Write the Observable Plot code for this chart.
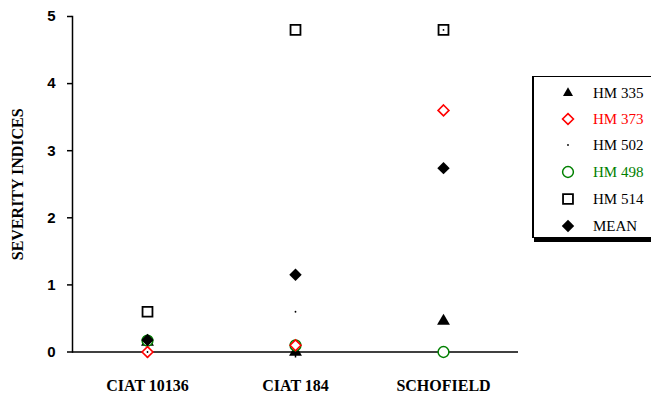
<!DOCTYPE html>
<html>
<head>
<meta charset="utf-8">
<script src="https://cdn.jsdelivr.net/npm/d3@7"></script>
<script src="https://cdn.jsdelivr.net/npm/@observablehq/plot@0.6"></script>
<style>
  html, body { margin: 0; padding: 0; background: #fff; }
  #wrap { position: relative; width: 651px; height: 399px; overflow: hidden; }
  #legend { position: absolute; left: 532px; top: 76px; width: 130px; height: 160px;
    border: 1px solid #000; border-left-width: 2px; background: #fff; box-shadow: 2px 4px 0 #000; }
  .row { position: absolute; left: 0; height: 20px; display: flex; align-items: center; }
  .row span { position: absolute; left: 59px; font-family: "Liberation Serif", "Times New Roman", serif; font-size: 15px; white-space: nowrap; }
</style>
</head>
<body>
<div id="wrap"></div>
<script>
const categories = ["CIAT 10136", "CIAT 184", "SCHOFIELD"];
const seriesNames = ["HM 335", "HM 373", "HM 502", "HM 498", "HM 514", "MEAN"];
const hm335 = [0.15, 0.0, 0.46];
const hm373 = [0.0, 0.1, 3.6];
const hm502 = [0.0, 0.6, 4.8];
const hm498 = [0.17, 0.1, 0.0];
const hm514 = [0.6, 4.8, 4.8];
const mean = [0.18, 1.15, 2.74];
const yTicks = [0, 1, 2, 3, 4, 5];
const yTitle = "SEVERITY INDICES";

const seriesValues = [hm335, hm373, hm502, hm498, hm514, mean];
const styles = [
  {symbol: "triangle", r: 4.8, fill: "#000", stroke: "none", strokeWidth: 0, text: "#000"},
  {symbol: "diamond2", r: 4.9, fill: "#fff", stroke: "#ff0000", strokeWidth: 1.6, text: "#ff0000"},
  {symbol: "circle", r: 0.9, fill: "#000", stroke: "none", strokeWidth: 0, text: "#000"},
  {symbol: "circle", r: 5.4, fill: "#fff", stroke: "#008000", strokeWidth: 1.5, text: "#008000"},
  {symbol: "square", r: 5.6, fill: "none", stroke: "#000", strokeWidth: 1.8, text: "#000"},
  {symbol: "diamond2", r: 5.6, fill: "#000", stroke: "none", strokeWidth: 0, text: "#000"}
];
// drawing order (hollow circle beneath the red diamond, dot above it)
const drawOrder = [0, 3, 1, 2, 4, 5];

const dotMarks = drawOrder.map((i) => {
  const s = styles[i];
  const vals = seriesValues[i];
  const data = categories.map((c, j) => ({cat: c, v: vals[j]}));
  return Plot.dot(data, {x: "cat", y: "v", symbol: () => s.symbol, r: s.r,
    fill: s.fill, stroke: s.stroke, strokeWidth: s.strokeWidth});
});

const chart = Plot.plot({
  width: 651,
  height: 399,
  marginLeft: 72,
  marginRight: 133,
  marginTop: 16,
  marginBottom: 47.5,
  style: {background: "transparent", color: "#000"},
  x: {type: "band", domain: categories, padding: 0},
  y: {domain: [0, 5]},
  symbol: {type: "identity"},
  marks: [
    Plot.frame({anchor: "left", stroke: "#000", strokeWidth: 1.5}),
    Plot.axisY(yTicks, {tickSize: 5, tickPadding: 12, fontSize: 15, fontWeight: "bold",
      tickFormat: d3.format("d"),
      fontFamily: "Liberation Sans, Arial, sans-serif", label: null, strokeWidth: 1.5}),
    Plot.axisX({tickSize: 6, tickPadding: 22, fontSize: 16, fontWeight: "bold",
      fontFamily: "Liberation Serif, Times New Roman, serif", label: null, strokeWidth: 1.5}),
    Plot.ruleY([0], {stroke: "#000", strokeWidth: 1.5}),
    Plot.text([yTitle], {frameAnchor: "left", textAnchor: "middle", lineAnchor: "middle",
      rotate: -90, dx: -55, fontSize: 16,
      fontWeight: "bold", fontFamily: "Liberation Serif, Times New Roman, serif", fill: "#000"}),
    ...dotMarks
  ]
});

const wrap = document.getElementById("wrap");
wrap.appendChild(chart);

// Legend
const legend = document.createElement("div");
legend.id = "legend";
const rowTops = [6, 32, 58, 85, 112, 139];
seriesNames.forEach((name, i) => {
  const s = styles[i];
  const row = document.createElement("div");
  row.className = "row";
  row.style.top = rowTops[i] + "px";
  const svg = d3.create("svg").attr("width", 40).attr("height", 20)
    .style("position", "absolute").style("left", "14px").style("top", "0px");
  const sym = {triangle: d3.symbolTriangle2, diamond2: d3.symbolDiamond2, circle: d3.symbolCircle, square: d3.symbolSquare}[s.symbol];
  svg.append("path")
    .attr("transform", "translate(20,10)")
    .attr("d", d3.symbol(sym, s.r * s.r * Math.PI)())
    .attr("fill", s.fill).attr("stroke", s.stroke).attr("stroke-width", s.strokeWidth);
  row.appendChild(svg.node());
  const t = document.createElement("span");
  t.textContent = name;
  t.style.color = s.text;
  row.appendChild(t);
  legend.appendChild(row);
});
wrap.appendChild(legend);
</script>
</body>
</html>
